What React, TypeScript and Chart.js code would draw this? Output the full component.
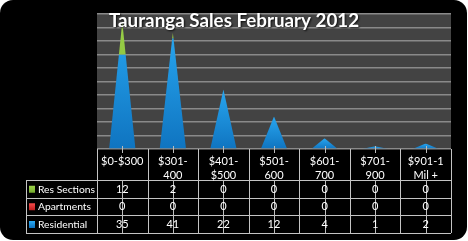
import React, { useEffect, useRef } from "react";
import { Chart, registerables } from "chart.js";
Chart.register(...registerables);

const title = "Tauranga Sales February 2012";
const categories: string[][] = [
  ["$0-$300"],
  ["$301-", "400"],
  ["$401-", "$500"],
  ["$501-", "600"],
  ["$601-", "700"],
  ["$701-", "900"],
  ["$901-1", "Mil +"],
];
const resSections = [12, 2, 0, 0, 0, 0, 0];
const apartments = [0, 0, 0, 0, 0, 0, 0];
const residential = [35, 41, 22, 12, 4, 1, 2];
const seriesNames = ["Residential", "Apartments", "Res Sections"];
const seriesData = [residential, apartments, resSections];
const seriesColors = [
  ["#28a6f0", "#0f74c0"],
  ["#f04848", "#c02020"],
  ["#9ad048", "#78b030"],
];
const yMax = 50;
const yStep = 5;

const FONT = "Lato, 'Liberation Sans', sans-serif";

const framePlugin = {
  id: "frame",
  beforeDraw(chart: any) {
    const ctx = chart.ctx as CanvasRenderingContext2D;
    const { left, top, right, bottom } = chart.chartArea;
    ctx.save();
    ctx.fillStyle = "#000";
    ctx.beginPath();
    (ctx as any).roundRect(0, 0, 467, 240, 13);
    ctx.fill();
    ctx.fillStyle = "#434343";
    ctx.fillRect(left, top, right - left, bottom - top);
    ctx.restore();
  },
};

const pyramidPlugin = {
  id: "pyramids",
  afterDatasetsDraw(chart: any) {
    const ctx = chart.ctx as CanvasRenderingContext2D;
    const metas = chart.data.datasets.map((_: any, d: number) => chart.getDatasetMeta(d));
    const base = chart.scales.y.getPixelForValue(0);
    const n = chart.data.labels.length;
    for (let i = 0; i < n; i++) {
      let topY = base;
      metas.forEach((m: any) => {
        topY = Math.min(topY, m.data[i].y);
      });
      if (topY >= base - 0.3) continue;
      const x = metas[0].data[i].x;
      const w = metas[0].data[i].width;
      metas.forEach((m: any, d: number) => {
        const e = m.data[i];
        const y1 = Math.min(e.y, e.base);
        const y2 = Math.max(e.y, e.base);
        if (y2 - y1 < 0.05) return;
        ctx.save();
        ctx.beginPath();
        ctx.rect(x - w, y1, 2 * w, y2 - y1);
        ctx.clip();
        ctx.beginPath();
        ctx.moveTo(x, topY);
        ctx.lineTo(x + w / 2, base);
        ctx.lineTo(x - w / 2, base);
        ctx.closePath();
        const g = ctx.createLinearGradient(0, topY, 0, base);
        g.addColorStop(0, seriesColors[d][0]);
        g.addColorStop(1, seriesColors[d][1]);
        ctx.fillStyle = g;
        ctx.fill();
        ctx.restore();
      });
    }
  },
};

const tablePlugin = {
  id: "table",
  afterDraw(chart: any) {
    const ctx = chart.ctx as CanvasRenderingContext2D;
    const xs = chart.scales.x;
    const { left, right, bottom } = chart.chartArea;
    const n = chart.data.labels.length;
    const step = (right - left) / n;
    const headTop = bottom;
    const rowTops = [180, 197.5, 215, 233];
    const labelLeft = 26;
    ctx.save();
    ctx.strokeStyle = "#c4c4c4";
    ctx.lineWidth = 1;
    rowTops.forEach((y) => {
      ctx.beginPath();
      ctx.moveTo(labelLeft, Math.round(y) + 0.5);
      ctx.lineTo(right, Math.round(y) + 0.5);
      ctx.stroke();
    });
    for (let i = 0; i <= n; i++) {
      const x = Math.round(left + i * step) + 0.5;
      ctx.beginPath();
      ctx.moveTo(x, headTop);
      ctx.lineTo(x, rowTops[3]);
      ctx.stroke();
    }
    ctx.beginPath();
    ctx.moveTo(labelLeft + 0.5, rowTops[0]);
    ctx.lineTo(labelLeft + 0.5, rowTops[3]);
    ctx.stroke();
    ctx.strokeStyle = "#bcbcbc";
    for (let i = 0; i < n; i++) {
      const x = Math.round(xs.getPixelForValue(i)) + 0.5;
      ctx.beginPath();
      ctx.moveTo(x, headTop - 3);
      ctx.lineTo(x, headTop + 4);
      ctx.stroke();
      ctx.beginPath();
      ctx.moveTo(x, rowTops[0]);
      ctx.lineTo(x, rowTops[3]);
      ctx.stroke();
    }
    ctx.fillStyle = "#ffffff";
    ctx.font = `11px ${FONT}`;
    ctx.textAlign = "center";
    ctx.textBaseline = "middle";
    categories.forEach((lines, i) => {
      const x = xs.getPixelForValue(i);
      lines.forEach((t, k) => ctx.fillText(t, x, 161 + k * 14));
    });
    const order = [2, 1, 0];
    order.forEach((d, r) => {
      const cy = (rowTops[r] + rowTops[r + 1]) / 2 + 0.5;
      const vals = seriesData[d];
      ctx.font = `11px ${FONT}`;
      ctx.textAlign = "center";
      ctx.fillStyle = "#ffffff";
      vals.forEach((v, i) => ctx.fillText(String(v), xs.getPixelForValue(i), cy));
      const g = ctx.createLinearGradient(0, cy - 3, 0, cy + 3);
      g.addColorStop(0, seriesColors[d][0]);
      g.addColorStop(1, seriesColors[d][1]);
      ctx.fillStyle = g;
      ctx.fillRect(29, cy - 3.5, 6, 7);
      ctx.fillStyle = "#ffffff";
      ctx.textAlign = "left";
      ctx.font = `10.3px ${FONT}`;
      ctx.fillText(seriesNames[d], 38, cy);
    });
    ctx.font = `bold 18.8px ${FONT}`;
    ctx.textAlign = "center";
    ctx.textBaseline = "middle";
    ctx.shadowColor = "rgba(0,0,0,0.8)";
    ctx.shadowBlur = 2;
    ctx.shadowOffsetX = 1;
    ctx.shadowOffsetY = 1;
    ctx.fillStyle = "#ffffff";
    ctx.fillText(title, 234, 21);
    ctx.restore();
  },
};

export default function App() {
  const ref = useRef<HTMLCanvasElement>(null);
  useEffect(() => {
    document.body.style.margin = "0";
    document.body.style.background = "#ffffff";
    const chart = new Chart(ref.current!, {
      type: "bar",
      data: {
        labels: categories.map((c) => c.join(" ")),
        datasets: seriesNames.map((name, d) => ({
          label: name,
          data: seriesData[d],
          backgroundColor: "rgba(0,0,0,0)",
          borderWidth: 0,
          barPercentage: 0.52,
          categoryPercentage: 1,
        })),
      },
      options: {
        responsive: false,
        animation: false,
        devicePixelRatio: 1,
        layout: { padding: { left: 97, right: 17, top: 14, bottom: 92 } },
        plugins: { legend: { display: false }, tooltip: { enabled: false }, title: { display: false } },
        scales: {
          x: { stacked: true, display: false },
          y: {
            stacked: true,
            min: 0,
            max: yMax,
            display: true,
            afterFit: (s: any) => {
              s.width = 0;
            },
            ticks: { display: false, stepSize: yStep },
            border: { display: false },
            grid: { color: "#8a8a8a", lineWidth: 1.5, drawTicks: false },
          },
        },
      },
      plugins: [framePlugin, pyramidPlugin, tablePlugin],
    });
    return () => chart.destroy();
  }, []);
  return <canvas ref={ref} width={468} height={241} style={{ display: "block" }} />;
}
